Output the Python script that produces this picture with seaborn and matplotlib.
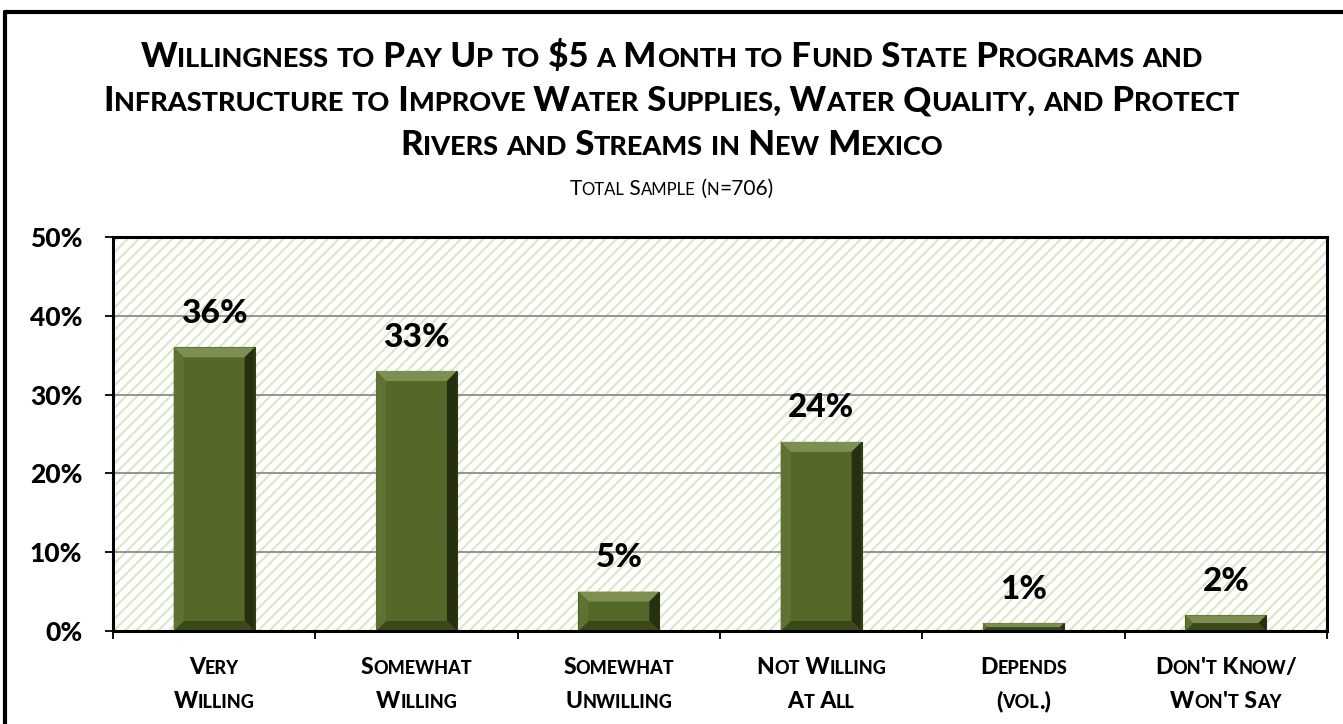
import matplotlib
matplotlib.use('Agg')
import matplotlib.pyplot as plt
import seaborn as sns
import pandas as pd
from matplotlib.patches import Rectangle, Polygon
from matplotlib.lines import Line2D
from matplotlib.ticker import FuncFormatter, FixedLocator

# chart data
categories = ['Very Willing', 'Somewhat Willing', 'Somewhat Unwilling',
              'Not Willing At All', 'Depends (vol.)', "Don't Know/ Won't Say"]
label_lines = [['Very', 'Willing'], ['Somewhat', 'Willing'], ['Somewhat', 'Unwilling'],
               ['Not Willing', 'At All'], ['Depends', '(vol.)'], ["Don't Know/", "Won't Say"]]
values = [36, 33, 5, 24, 1, 2]
y_ticks = [0, 10, 20, 30, 40, 50]
title_lines = ['Willingness to Pay Up to $5 a Month to Fund State Programs and',
               'Infrastructure to Improve Water Supplies, Water Quality, and Protect',
               'Rivers and Streams in New Mexico']
subtitle = 'Total Sample (n=706)'

df = pd.DataFrame({'category': categories, 'value': values})

# style
sns.set_theme(style='white')
FONT = ['Lato', 'DejaVu Sans']
plt.rcParams['font.family'] = FONT
plt.rcParams['hatch.linewidth'] = 1.5
BOLD = 900

W, H, DPI = 1343, 724, 100
fig = plt.figure(figsize=(W / DPI, H / DPI), dpi=DPI)
fig.patch.set_facecolor('white')
renderer = fig.canvas.get_renderer()

# plot area in pixels
left, right, top, bottom = 113, 1327, 237, 631
ax = fig.add_axes([left / W, (H - bottom) / H, (right - left) / W, (bottom - top) / H])

# hatched light green background
ax.add_patch(Rectangle((0, 0), 1, 1, transform=ax.transAxes, facecolor='white',
                       edgecolor='#dbe7c4', hatch='///', lw=0, zorder=0.2))

sns.barplot(data=df, x='category', y='value', color='#546829', width=0.4,
            saturation=1, edgecolor='#2f3b12', linewidth=0.8, zorder=3, ax=ax)

ax.set_ylim(0, 50)
ax.set_xlim(-0.5, len(categories) - 0.5)
ax.yaxis.set_major_locator(FixedLocator(y_ticks))
ax.yaxis.set_major_formatter(FuncFormatter(lambda v, p: f'{int(v)}%'))
ax.set_axisbelow(True)
ax.yaxis.grid(True, color='#8c8c8c', lw=1.3, zorder=0.5)
ax.xaxis.grid(False)
ax.set_xlabel('')
ax.set_ylabel('')
ax.set_xticks(range(len(categories)))
ax.set_xticklabels([])
ax.tick_params(axis='x', which='major', length=0)
ax.set_xticks([i - 0.5 for i in range(len(categories) + 1)], minor=True)
ax.tick_params(axis='x', which='minor', length=6, width=1.3, color='black', direction='out', bottom=True)
ax.tick_params(axis='y', length=6, width=1.3, color='black', direction='out', left=True, pad=16)
for lab in ax.get_yticklabels():
    lab.set_fontsize(19)
    lab.set_fontweight(BOLD)
    lab.set_color('black')
for sp in ax.spines.values():
    sp.set_visible(True)
    sp.set_color('black')
    sp.set_linewidth(2.2)
    sp.set_zorder(5)

# bevel on each bar
inv = ax.transData.inverted()
for patch in ax.patches[1:]:
    x0d, y0d = patch.get_x(), patch.get_y()
    x1d, y1d = x0d + patch.get_width(), y0d + patch.get_height()
    (x0, y0), (x1, y1) = ax.transData.transform([(x0d, y0d), (x1d, y1d)])
    b = min(10, (x1 - x0) / 2, (y1 - y0) / 2)
    faces = [
        ([(x0, y1), (x1, y1), (x1 - b, y1 - b), (x0 + b, y1 - b)], '#7d9052'),
        ([(x1, y1), (x1, y0), (x1 - b, y0 + b), (x1 - b, y1 - b)], '#26300e'),
        ([(x0, y0), (x1, y0), (x1 - b, y0 + b), (x0 + b, y0 + b)], '#3b4819'),
        ([(x0, y0), (x0, y1), (x0 + b, y1 - b), (x0 + b, y0 + b)], '#5f7234'),
    ]
    for pts, col in faces:
        ax.add_patch(Polygon(inv.transform(pts), closed=True, facecolor=col,
                             edgecolor='none', zorder=3.1))

# data labels
ax.bar_label(ax.containers[0], labels=[f'{v}%' for v in values], padding=14,
             fontsize=24, fontweight=BOLD, color='black')


def text_width(s, size, weight):
    t = fig.text(0, 0, '|' + s + '|', fontsize=size, fontweight=weight)
    w = t.get_window_extent(renderer).width
    t.set_text('||')
    w -= t.get_window_extent(renderer).width
    t.remove()
    return w


def small_caps(s, cx, baseline, big, small, weight=BOLD):
    runs = []
    for ch in s:
        kind = small if ch.islower() else big
        if runs and runs[-1][1] == kind:
            runs[-1][0] += ch.upper()
        else:
            runs.append([ch.upper(), kind])
    widths = [text_width(r, sz, weight) for r, sz in runs]
    x = cx - sum(widths) / 2
    for (r, sz), w in zip(runs, widths):
        fig.text(x / W, 1 - baseline / H, r, fontsize=sz, fontweight=weight,
                 ha='left', va='baseline', color='black')
        x += w


# title and subtitle
for i, line in enumerate(title_lines):
    small_caps(line, W / 2, 67 + i * 44, 25, 19.5)
small_caps(subtitle, W / 2, 195, 15, 12, weight='normal')

# category labels
for i, lines in enumerate(label_lines):
    cx = ax.transData.transform((i, 0))[0]
    for j, line in enumerate(lines):
        small_caps(line, cx, 674 + j * 34, 16.5, 13)

# figure border (left and top edges visible)
fig.add_artist(Line2D([5 / W, 5 / W], [0, 1 - 11.5 / H], transform=fig.transFigure,
                      color='black', lw=3))
fig.add_artist(Line2D([5 / W, 1], [1 - 11.5 / H, 1 - 11.5 / H], transform=fig.transFigure,
                      color='black', lw=3))

fig.savefig('out.png', dpi=DPI, facecolor='white')
